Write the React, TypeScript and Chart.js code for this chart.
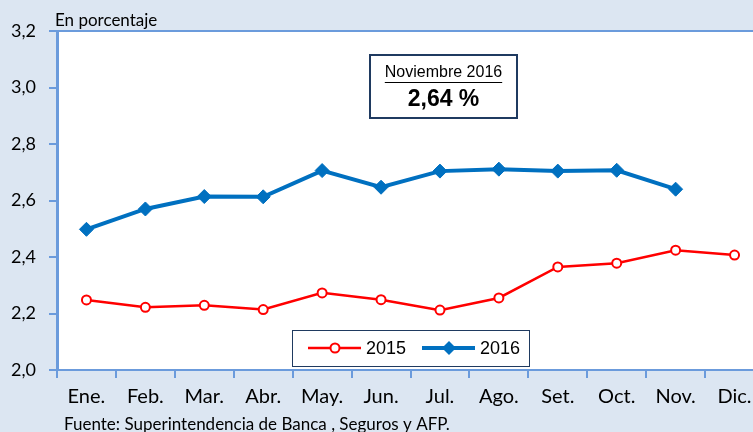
import React, { useEffect, useRef } from "react";
import { Chart, registerables } from "chart.js";

Chart.register(...registerables);

const months = ["Ene.", "Feb.", "Mar.", "Abr.", "May.", "Jun.", "Jul.", "Ago.", "Set.", "Oct.", "Nov.", "Dic."];
const values2015 = [2.248, 2.222, 2.229, 2.214, 2.273, 2.249, 2.212, 2.255, 2.365, 2.378, 2.424, 2.407];
const values2016 = [2.498, 2.570, 2.614, 2.613, 2.706, 2.647, 2.704, 2.711, 2.704, 2.707, 2.640, null];
const yMin = 2.0;
const yMax = 3.2;
const yStep = 0.2;
const unitLabel = "En porcentaje";
const sourceNote = "Fuente: Superintendencia de Banca , Seguros y AFP.";
const boxTitle = "Noviembre 2016";
const boxValue = "2,64 %";
const seriesNames = ["2015", "2016"];

const RED = "#ff0000";
const BLUE = "#0070c0";
const AXIS = "#6b9bdc";
const BG = "#dce6f2";
const NAVY = "#1f3a60";

const decorPlugin = {
  id: "decor",
  beforeDraw(chart: any) {
    const { ctx, chartArea: a } = chart;
    ctx.save();
    ctx.fillStyle = BG;
    ctx.fillRect(0, 0, chart.width, chart.height);
    ctx.fillStyle = "#ffffff";
    ctx.fillRect(a.left, a.top, a.right - a.left, a.bottom - a.top);
    ctx.restore();
  },
  afterDraw(chart: any) {
    const { ctx, chartArea: a } = chart;
    ctx.save();
    // top border
    ctx.strokeStyle = AXIS;
    ctx.lineWidth = 2;
    ctx.beginPath();
    ctx.moveTo(a.left - 8, a.top);
    ctx.lineTo(a.right, a.top);
    ctx.stroke();

    // unit label
    ctx.fillStyle = "#000";
    ctx.font = "17px Lato";
    ctx.textAlign = "left";
    ctx.textBaseline = "alphabetic";
    ctx.fillText(unitLabel, 55, 26);

    // source note
    ctx.font = "17px Lato";
    ctx.textBaseline = "alphabetic";
    ctx.fillText(sourceNote, 64, 430);

    // annotation box
    const bx = 370, by = 55, bw = 147, bh = 63;
    ctx.fillStyle = "#fff";
    ctx.fillRect(bx, by, bw, bh);
    ctx.strokeStyle = NAVY;
    ctx.lineWidth = 2;
    ctx.strokeRect(bx, by, bw, bh);
    ctx.fillStyle = "#000";
    ctx.font = "16px 'Liberation Sans'";
    ctx.textAlign = "center";
    ctx.textBaseline = "middle";
    const cx = bx + bw / 2;
    ctx.fillText(boxTitle, cx, 73);
    const tw = ctx.measureText(boxTitle).width;
    ctx.lineWidth = 1;
    ctx.strokeStyle = "#000";
    ctx.beginPath();
    ctx.moveTo(cx - tw / 2, 82.5);
    ctx.lineTo(cx + tw / 2, 82.5);
    ctx.stroke();
    ctx.font = "bold 23px 'Liberation Sans'";
    ctx.fillText(boxValue, cx, 100);

    // legend box
    const lx = 292, ly = 330, lw = 237, lh = 36;
    ctx.fillStyle = "#fff";
    ctx.fillRect(lx, ly, lw, lh);
    ctx.strokeStyle = NAVY;
    ctx.lineWidth = 1;
    ctx.strokeRect(lx + 0.5, ly + 0.5, lw, lh);
    const my = ly + lh / 2;
    // 2015
    ctx.strokeStyle = RED;
    ctx.lineWidth = 2.5;
    ctx.beginPath();
    ctx.moveTo(308, my);
    ctx.lineTo(361, my);
    ctx.stroke();
    ctx.beginPath();
    ctx.arc(335, my, 4.5, 0, Math.PI * 2);
    ctx.fillStyle = "#fff";
    ctx.fill();
    ctx.lineWidth = 2;
    ctx.stroke();
    // 2016
    ctx.strokeStyle = BLUE;
    ctx.lineWidth = 4;
    ctx.beginPath();
    ctx.moveTo(422, my);
    ctx.lineTo(475, my);
    ctx.stroke();
    ctx.fillStyle = BLUE;
    ctx.beginPath();
    ctx.moveTo(449, my - 7);
    ctx.lineTo(456, my);
    ctx.lineTo(449, my + 7);
    ctx.lineTo(442, my);
    ctx.closePath();
    ctx.fill();
    ctx.fillStyle = "#000";
    ctx.font = "18px 'Liberation Sans'";
    ctx.textAlign = "left";
    ctx.fillText(seriesNames[0], 366, my + 1);
    ctx.fillText(seriesNames[1], 480, my + 1);
    ctx.restore();
  },
};

export default function App() {
  const ref = useRef<HTMLCanvasElement | null>(null);
  useEffect(() => {
    if (!ref.current) return;
    const chart = new Chart(ref.current, {
      type: "line",
      data: {
        labels: months,
        datasets: [
          {
            label: seriesNames[0],
            data: values2015,
            borderColor: RED,
            borderWidth: 2.5,
            pointStyle: "circle",
            pointRadius: 4.5,
            pointBorderWidth: 2,
            pointBackgroundColor: "#fff",
            pointBorderColor: RED,
            tension: 0,
          },
          {
            label: seriesNames[1],
            data: values2016,
            borderColor: BLUE,
            borderWidth: 4,
            pointStyle: "rectRot",
            pointRadius: 7,
            pointBorderWidth: 1,
            pointBackgroundColor: BLUE,
            pointBorderColor: BLUE,
            tension: 0,
            spanGaps: false,
          },
        ],
      },
      options: {
        animation: false,
        responsive: false,
        layout: { padding: { top: 31, left: 0, right: 16, bottom: 0 } },
        plugins: {
          legend: { display: false },
          tooltip: { enabled: false },
        },
        scales: {
          x: {
            type: "category",
            offset: true,
            grid: { offset: true, drawOnChartArea: false, drawTicks: true, tickLength: 8, color: AXIS, lineWidth: 2 },
            border: { color: AXIS, width: 2 },
            ticks: { color: "#000", font: { family: "Lato", size: 20 }, padding: 7, maxRotation: 0, autoSkip: false },
            afterFit: (s: any) => { s.height = 62; },
          },
          y: {
            min: yMin,
            max: yMax,
            grid: { drawOnChartArea: false, drawTicks: true, tickLength: 8, color: AXIS, lineWidth: 2 },
            border: { color: AXIS, width: 3 },
            ticks: {
              stepSize: yStep,
              color: "#000",
              font: { family: "Lato", size: 18 },
              padding: 13,
              callback: (v: any) => Number(v).toFixed(1).replace(".", ","),
            },
            afterFit: (s: any) => { s.width = 57; },
          },
        },
      },
      plugins: [decorPlugin],
    });
    return () => chart.destroy();
  }, []);
  return (
    <div style={{ position: "fixed", left: 0, top: 0, width: 753, height: 432, overflow: "hidden", background: BG }}>
      <canvas ref={ref} width={780} height={432} style={{ display: "block" }} />
    </div>
  );
}
